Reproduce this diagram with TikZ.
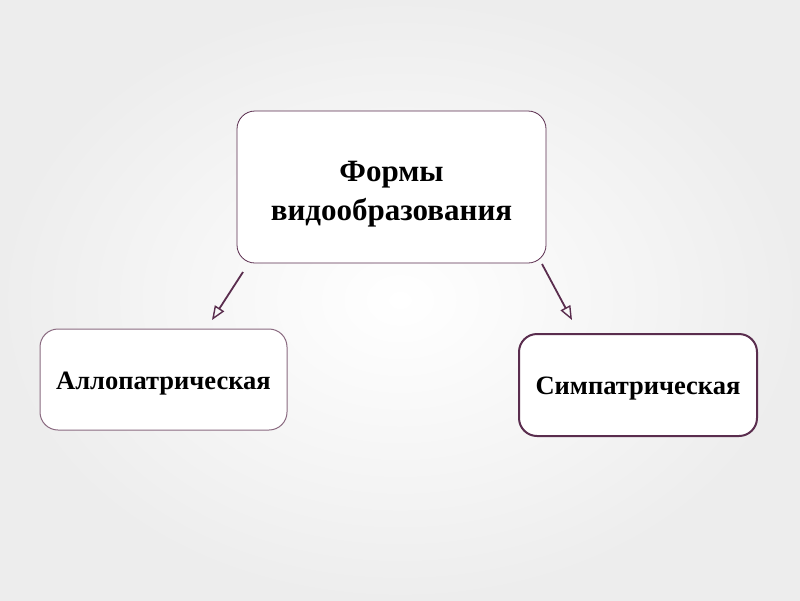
\documentclass[tikz,border=0pt]{standalone}
\usepackage{fontspec}
\setmainfont{Liberation Serif}
\usetikzlibrary{arrows.meta}
\definecolor{edge}{HTML}{5A2D4E}
\definecolor{edgelight}{HTML}{8A6A80}
\tikzset{
  x=1pt,y=-1pt,
  box/.style={draw=edge, rounded corners=18pt, fill=white, inner sep=0pt},
  txt/.style={align=center, inner sep=0pt},
  big/.style={font=\bfseries\fontsize{31}{39}\selectfont},
  small/.style={font=\bfseries\fontsize{26.5}{30}\selectfont},
  conn/.style={draw=edge, line width=1.8pt, -{Triangle[open, length=14pt, width=11pt, line width=1.4pt]}}
}
\begin{document}
\begin{tikzpicture}
\useasboundingbox (0,0) rectangle (800,600);
\shade[inner color=white, outer color=black!7] (0,0) rectangle (800,600);
\node[box, line width=0.8pt, minimum width=309pt, minimum height=152pt] (top) at (391.5,187) {};
\node[txt, big] (toptext) at ([yshift=-7pt]top.center) {Формы\\видообразования};
\node[box, draw=edgelight, line width=1pt, minimum width=247pt, minimum height=101pt] (left) at (163.5,379.5) {};
\node[txt, small] (lefttext) at ([yshift=-4pt]left.center) {Аллопатрическая};
\node[box, line width=2pt, minimum width=238pt, minimum height=102pt] (right) at (638,385) {};
\node[txt, small] (righttext) at ([yshift=-4pt]right.center) {Симпатрическая};
\coordinate (ls) at (243,272);
\coordinate (le) at (212,320);
\coordinate (rs) at (542,264);
\coordinate (re) at (572,320);
\draw[conn] (ls) -- (le);
\draw[conn] (rs) -- (re);
\end{tikzpicture}
\end{document}
